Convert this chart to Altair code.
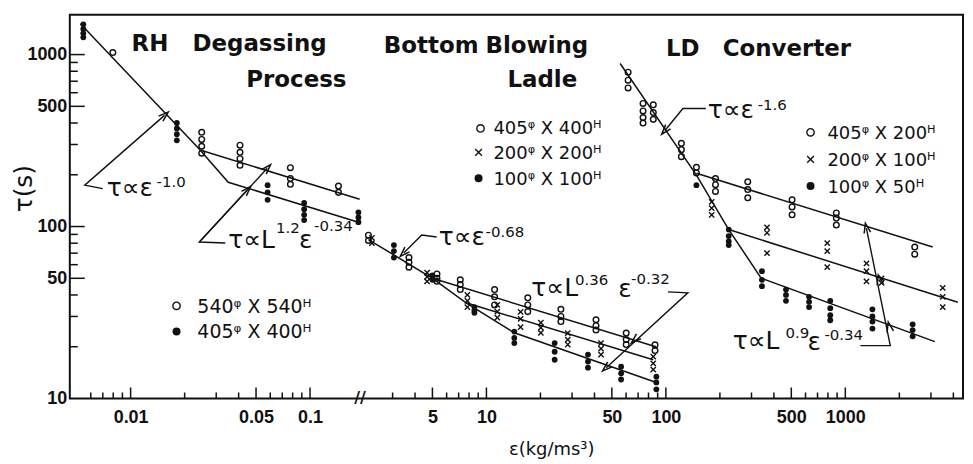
import altair as alt
import pandas as pd

K = 10.4  # the right part of the broken axis (eps >= 1) is drawn shifted by this factor

# ---------------- measured data (eps in kg/ms3, tau in s) ----------------
# RH degassing process
rh_open_eps = [0.00796, 0.0249, 0.0249, 0.0249, 0.0249, 0.0407, 0.0407, 0.0407, 0.0407,
               0.0777, 0.0777, 0.0777, 0.144, 0.144]
rh_open_tau = [1028, 353, 321, 293, 267, 297, 270, 248, 227, 220, 190, 176, 172, 158]
rh_fill_eps = [0.00545, 0.00545, 0.00545, 0.00545, 0.0181, 0.0181, 0.0181, 0.0181,
               0.058, 0.058, 0.058, 0.0927, 0.0927, 0.0927, 0.0927, 0.186, 0.186, 0.186]
rh_fill_tau = [1500, 1410, 1330, 1260, 400, 372, 344, 317, 174, 158, 143,
               137, 126, 117, 109, 121, 113, 106]

# Bottom blowing ladle
bb_open_eps = [2.2, 2.2, 3.7, 3.7, 3.7, 5.3, 5.3, 5.3, 7.15, 7.15, 7.15, 11.1, 11.1, 11.1,
               17.0, 17.0, 17.0, 26.0, 26.0, 26.0, 40.8, 40.8, 40.8, 60.1, 60.1, 60.1, 87, 87]
bb_open_tau = [89, 83, 66, 62, 58, 53, 50, 48, 49, 46, 43, 43, 39, 35,
               38.5, 35, 32, 33, 30, 28, 28.7, 26.5, 25, 24, 22, 20.6, 20.5, 19]
bb_cross_eps = [2.3, 2.3, 4.67, 4.67, 4.67, 7.83, 7.83, 7.83, 11.5, 11.5, 11.5,
                15.5, 15.5, 15.5, 20.1, 20.1, 20.1, 28.4, 28.4, 28.4, 43.5, 43.5, 43.5, 85, 85, 85]
bb_cross_tau = [86, 80, 54, 51, 48, 40, 37, 34, 35, 32, 29.5,
                31.9, 29, 26, 27.6, 25.8, 24.1, 24, 22, 20.6, 21, 19.5, 18, 17.5, 16, 14.7]
bb_fill_eps = [3.05, 3.05, 3.05, 5.0, 5.0, 8.57, 8.57, 8.57, 14.3, 14.3, 14.3,
               24.0, 24.0, 24.0, 36.8, 36.8, 36.8, 56.3, 56.3, 56.3, 88.5, 88.5, 88.5]
bb_fill_tau = [78, 72, 66, 52, 49, 34, 32.5, 31.5, 24.5, 22.5, 21,
               21, 18.7, 16.8, 18, 16.4, 15.1, 15.3, 14, 12.9, 13.4, 12.4, 11.3]

# LD converter
ld_open_eps = [61.6, 61.6, 61.6, 74.6, 74.6, 74.6, 74.6, 85.1, 85.1, 85.1, 122, 122, 122,
               148, 148, 189, 189, 189, 286, 286, 286, 505, 505, 505, 891, 891, 891, 2437, 2437]
ld_open_tau = [790, 710, 640, 520, 470, 430, 400, 510, 460, 420, 305, 280, 255,
               221, 205, 190, 175, 160, 182, 164, 147, 143, 130, 117, 120, 112, 102, 76, 69]
ld_cross_eps = [180, 180, 180, 366, 366, 366, 793, 793, 793, 1312, 1312, 1312, 1592, 1592,
                3490, 3490, 3490]
ld_cross_tau = [139, 128, 117, 99, 92, 70, 80, 72, 58, 61, 55, 48, 50, 47, 44, 39, 34]
ld_fill_eps = [148, 224, 224, 224, 224, 343, 343, 343, 467, 467, 467, 628, 628, 628,
               824, 824, 824, 824, 1416, 1416, 1416, 1416, 2372, 2372, 2372]
ld_fill_tau = [174, 96, 88, 82, 78, 55, 49, 45, 43, 40, 37, 39, 36.5, 34,
               37, 33.5, 30.5, 28.5, 33, 30, 28, 25.5, 27, 25, 23]

# fitted lines (polylines through eps/tau vertices)
fit_lines = {
    "rh_fill": ([0.00525, 0.0239, 0.035, 0.186], [1513, 285, 181, 106]),
    "rh_open": ([0.0249, 0.189], [277, 144]),
    "bb_068": ([2.2, 5.0], [84, 50]),
    "bb_open": ([5.0, 88], [50, 20]),
    "bb_cross": ([5.0, 7.7, 85], [50, 36, 16.8]),
    "bb_fill": ([7.7, 14.3, 88.5], [36, 24.1, 12.4]),
    "ld_fill": ([55.6, 148, 224, 340, 3155], [887, 199, 96, 50, 21.4]),
    "ld_open": ([148, 3069], [204, 76]),
    "ld_cross": ([224, 4236], [96, 36.3]),
}

# annotation leader lines
leader_lines = {
    "a1": ([0.00699, 0.00555, 0.01545], [166, 174, 443]),
    "a2a": ([0.0337, 0.02416, 0.0447], [80.2, 81.3, 163]),
    "a2b": ([0.02416, 0.0577], [81.3, 218]),
    "a3": ([5.28, 4.36, 3.46], [86.9, 89.3, 70.2]),
    "a4": ([102.7, 132.6, 46.5], [41.7, 41.2, 15.1]),
    "a5": ([166.9, 124.4, 98.8], [486, 486, 362]),
    "a6": ([1213, 1780, 1310], [20.3, 20.3, 98.0]),
}
arrow_eps = [0.01545, 0.0447, 0.0577, 3.46, 67.3, 46.5, 98.8, 1310, 1546, 1757]
arrow_tau = [443, 163, 218, 70.2, 22.0, 15.1, 362, 98.0, 49.0, 26.1]
arrow_ang = [49, 43, 43, 225, 228, 228, 221, 348, 348, 348]

# region titles
title_text = ["RH", "Degassing", "Process", "Bottom", "Blowing", "Ladle", "LD", "Converter"]
title_eps = [0.01013, 0.02211, 0.0441, 2.68, 9.88, 13.09, 100.1, 207.5]
title_tau = [1054, 1054, 652, 1027, 1027, 644, 986, 986]

# equation bodies and legend texts
label_text = ["τ∝ε", "τ∝L", "ε", "τ∝ε", "τ∝L", "ε", "τ∝ε", "τ∝L", "ε",
              "540ᵠ X 540ᴴ", "405ᵠ X 400ᴴ",
              "405ᵠ X 400ᴴ", "200ᵠ X 200ᴴ", "100ᵠ X 100ᴴ",
              "405ᵠ X 200ᴴ", "200ᵠ X 100ᴴ", "100ᵠ X 50ᴴ"]
label_eps = [0.00736, 0.035, 0.0869, 5.42, 17.8, 54.2, 171, 236, 615.7,
             0.02355, 0.02355,
             10.94, 10.94, 10.94,
             795, 795, 795]
label_tau = [150, 75.0, 75.0, 78.2, 39.5, 39.0, 425, 19.5, 19.2,
             31.5, 22.6,
             344, 246, 174,
             321, 224, 156]
label_size = [25, 25, 25, 25, 25, 25, 25, 25, 25,
              19, 19, 18, 18, 18, 18, 18, 18]

# equation exponents
sup_text = ["-1.0", "1.2", "-0.34", "-0.68", "0.36", "-0.32", "-1.6", "0.9", "-0.34"]
sup_eps = [0.01394, 0.0647, 0.1052, 9.88, 31.2, 64.0, 324.7, 464.6, 765]
sup_tau = [169.5, 91.7, 94.2, 86.9, 45.8, 46.4, 473.6, 22.6, 22.0]

# legend symbols
leg_kind = ["open", "filled", "open", "cross", "filled", "open", "cross", "filled"]
leg_eps = [0.01803, 0.01803, 9.27, 9.04, 9.04, 640, 640, 640]
leg_tau = [34.6, 24.5, 372, 270, 191, 353, 246, 172]

# axis ticks
x_minor = [0.006, 0.007, 0.008, 0.009, 0.02, 0.03, 0.04, 0.06, 0.07, 0.08, 0.09,
           3, 4, 6, 7, 8, 9, 20, 30, 40, 60, 70, 80, 90, 200, 300, 400, 600, 700, 800, 900,
           2000, 3000, 4000]
x_major = [0.01, 0.05, 0.1, 5, 10, 50, 100, 500, 1000]
y_minor = [20, 30, 40, 60, 70, 80, 90, 200, 300, 400, 600, 700, 800, 900]
y_major = [50, 100, 500, 1000]

# ---------------- chart ----------------
W, H = 896, 385
XMIN, XMAX = 0.004583, 435.3
YMIN, YMAX = 10, 1706
PX_PER_DEC_X = W / 4.9778
PX_PER_DEC_Y = H / 2.2320
DEXPR = f"datum.eps < 1 ? datum.eps : datum.eps / {K}"
INK = "#111111"
FONT = "DejaVu Sans"
LFONT = "Liberation Sans"

xscale = alt.Scale(type="log", domain=[XMIN, XMAX], nice=False)
yscale = alt.Scale(type="log", domain=[YMIN, YMAX], nice=False)

x_label_vals = [v if v < 1 else v / K for v in x_major]
xaxis = alt.Axis(values=x_label_vals,
                 labelExpr=f"datum.value < 0.2 ? format(datum.value, '~g') : format(datum.value * {K}, '.4~g')",
                 ticks=False, tickSize=0, domain=False, grid=False,
                 labelFont=LFONT, labelFontSize=18, labelFontWeight="bold", labelColor=INK,
                 labelPadding=10, labelFlush=False, labelOverlap=False,
                 title="ε(kg/ms³)", titleFont=FONT, titleFontSize=18, titleFontWeight="normal",
                 titleColor=INK, titleX=483, titleY=56, titleAlign="center",
                 titleBaseline="alphabetic")
yaxis = alt.Axis(values=[10, 50, 100, 500, 1000], format="d",
                 ticks=False, tickSize=0, domain=False, grid=False,
                 labelFont=LFONT, labelFontSize=18, labelFontWeight="bold", labelColor=INK,
                 labelPadding=3, labelFlush=False, labelOverlap=False,
                 title="τ(s)", titleFont=FONT, titleFontSize=25, titleFontWeight="normal",
                 titleColor=INK, titleX=-46, titleY=174, titleAngle=270,
                 titleAlign="center", titleBaseline="middle")


def X(f="d"):
    return alt.X(f"{f}:Q", scale=xscale, axis=xaxis)


def Y(f="tau"):
    return alt.Y(f"{f}:Q", scale=yscale, axis=yaxis)


def base(df):
    return alt.Chart(df).transform_calculate(d=DEXPR)


def poly_df(lines):
    rows = []
    for name, (es, ts) in lines.items():
        for i, (e, t) in enumerate(zip(es, ts)):
            rows.append({"id": name, "o": i, "eps": e, "tau": t})
    return pd.DataFrame(rows)


def pts_df(es, ts):
    return pd.DataFrame({"eps": es, "tau": ts})


# inward tick marks, drawn as two-point lines; the length (px) is converted through the log scales
def tick_segments():
    rows = []
    n = 0
    for vals, length in ((x_major, 11), (x_minor, 6)):
        top = YMIN * 10 ** (length / PX_PER_DEC_Y)
        for v in vals:
            rows.append({"id": f"t{n}", "o": 0, "eps": v, "tau": YMIN * 1.001})
            rows.append({"id": f"t{n}", "o": 1, "eps": v, "tau": top})
            n += 1
    for vals, length in ((y_major, 15), (y_minor, 8)):
        right = XMIN * 10 ** (length / PX_PER_DEC_X)
        for v in vals:
            rows.append({"id": f"t{n}", "o": 0, "eps": XMIN * 1.001, "tau": v})
            rows.append({"id": f"t{n}", "o": 1, "eps": right, "tau": v})
            n += 1
    return pd.DataFrame(rows)


ticks = base(tick_segments()).mark_line(color=INK, strokeWidth=1.5).encode(
    x=X(), y=Y(), detail="id:N", order="o:Q")

fits = base(poly_df(fit_lines)).mark_line(color=INK, strokeWidth=1.5).encode(
    x=X(), y=Y(), detail="id:N", order="o:Q")
leaders = base(poly_df(leader_lines)).mark_line(color=INK, strokeWidth=1.4).encode(
    x=X(), y=Y(), detail="id:N", order="o:Q")
arrows = base(pd.DataFrame({"eps": arrow_eps, "tau": arrow_tau, "ang": arrow_ang})).mark_point(
    shape="M -0.6 0.9 L 0 -0.9 L 0.6 0.9", filled=False, color=INK, size=120, strokeWidth=1.5,
    opacity=1).encode(x=X(), y=Y(), angle=alt.Angle("ang:Q", scale=None))

CROSS = "M -1 -1 L 1 1 M 1 -1 L -1 1"


def open_pts(es, ts, size=32):
    return base(pts_df(es, ts)).mark_point(shape="circle", filled=False, color=INK, size=size,
                                           strokeWidth=1.4, opacity=1).encode(x=X(), y=Y())


def fill_pts(es, ts, size=34):
    return base(pts_df(es, ts)).mark_point(shape="circle", filled=True, color=INK, size=size,
                                           opacity=1).encode(x=X(), y=Y())


def cross_pts(es, ts, size=28):
    return base(pts_df(es, ts)).mark_point(shape=CROSS, filled=False, color=INK, size=size,
                                           strokeWidth=1.4, opacity=1).encode(x=X(), y=Y())


points = [
    open_pts(rh_open_eps, rh_open_tau), fill_pts(rh_fill_eps, rh_fill_tau),
    open_pts(bb_open_eps, bb_open_tau), cross_pts(bb_cross_eps, bb_cross_tau),
    fill_pts(bb_fill_eps, bb_fill_tau),
    open_pts(ld_open_eps, ld_open_tau), cross_pts(ld_cross_eps, ld_cross_tau),
    fill_pts(ld_fill_eps, ld_fill_tau),
]

leg_open = [(e, t) for k, e, t in zip(leg_kind, leg_eps, leg_tau) if k == "open"]
leg_fill = [(e, t) for k, e, t in zip(leg_kind, leg_eps, leg_tau) if k == "filled"]
leg_cross = [(e, t) for k, e, t in zip(leg_kind, leg_eps, leg_tau) if k == "cross"]
legend_syms = [
    open_pts([p[0] for p in leg_open], [p[1] for p in leg_open], size=55),
    fill_pts([p[0] for p in leg_fill], [p[1] for p in leg_fill], size=64),
    cross_pts([p[0] for p in leg_cross], [p[1] for p in leg_cross], size=45),
]

titles = base(pd.DataFrame({"txt": title_text, "eps": title_eps, "tau": title_tau})).mark_text(
    align="left", baseline="alphabetic", font=FONT, fontSize=23, fontWeight="bold",
    color=INK).encode(x=X(), y=Y(), text="txt:N")

texts = base(pd.DataFrame({"txt": label_text, "eps": label_eps, "tau": label_tau,
                           "fs": label_size})).mark_text(
    align="left", baseline="alphabetic", font=FONT, color=INK).encode(
    x=X(), y=Y(), text="txt:N", size=alt.Size("fs:Q", scale=None))

sups = base(pd.DataFrame({"txt": sup_text, "eps": sup_eps, "tau": sup_tau})).mark_text(
    align="left", baseline="alphabetic", font=FONT, fontSize=15, color=INK).encode(
    x=X(), y=Y(), text="txt:N")

brk = base(pd.DataFrame({"eps": [0.19], "tau": [10], "txt": ["//"]})).mark_text(
    align="center", baseline="middle", font=FONT, fontSize=16, fontWeight="bold",
    color=INK).encode(x=X(), y=Y(), text="txt:N")

chart = alt.layer(
    ticks, fits, leaders, arrows,
    *points, *legend_syms, titles, texts, sups, brk
).properties(
    width=W, height=H,
    padding={"left": 62, "top": 6, "right": 2, "bottom": 62},
    autosize=alt.AutoSizeParams(type="none"),
    background="white",
).configure_view(stroke=INK, strokeWidth=2)

chart.save("out.html", embed_options={"renderer": "svg", "actions": False})
